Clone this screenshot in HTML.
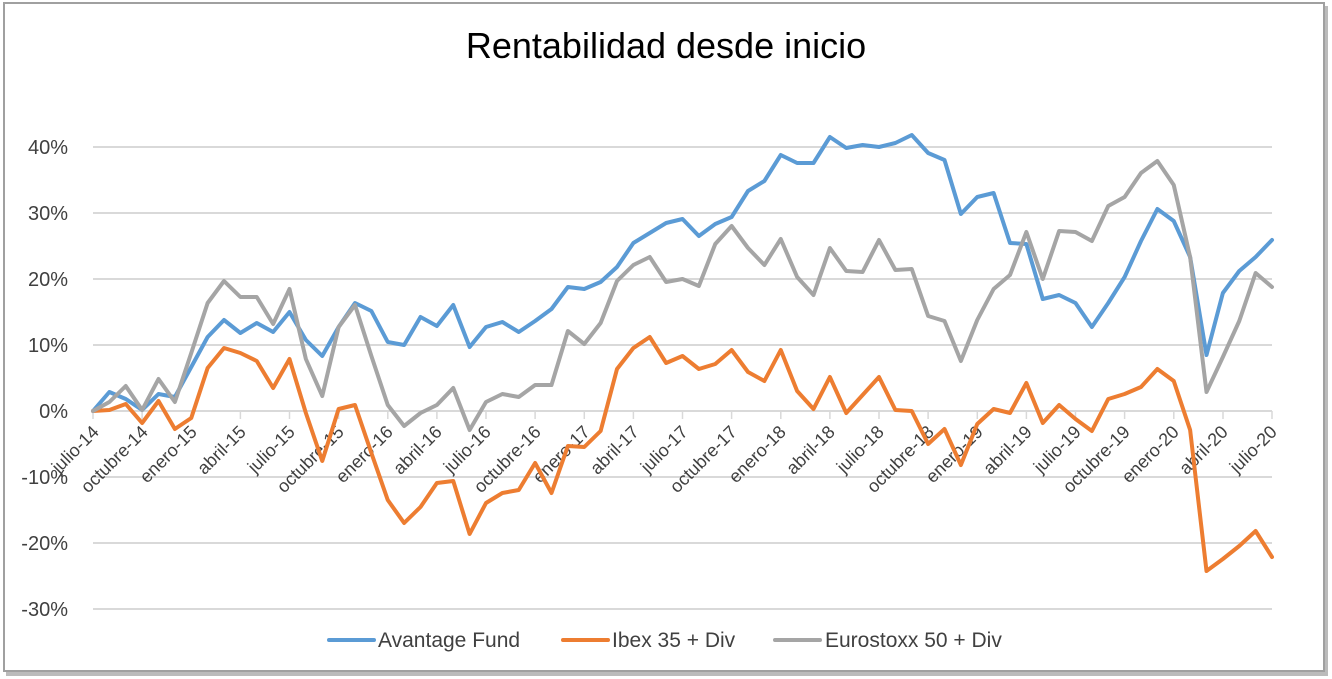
<!DOCTYPE html>
<html><head><meta charset="utf-8"><style>
html,body{margin:0;padding:0;background:#fff;}
body{width:1332px;height:679px;overflow:hidden;position:relative;font-family:"Liberation Sans",sans-serif;}
</style></head><body>
<svg width="1332" height="679" viewBox="0 0 1332 679" xmlns="http://www.w3.org/2000/svg" style="position:absolute;left:0;top:0">
<rect x="0" y="0" width="1332" height="679" fill="#fff"/>
<rect x="6" y="6" width="1322" height="670" fill="#bbb"/>
<rect x="4" y="3" width="1320" height="668" fill="#fff" stroke="#a0a0a0" stroke-width="2"/>
<text x="666" y="58" text-anchor="middle" font-size="36" fill="#000" font-family="Liberation Sans, sans-serif">Rentabilidad desde inicio</text>
<g stroke="#d9d9d9" stroke-width="2">
<line x1="93" y1="147" x2="1272" y2="147"/>
<line x1="93" y1="213" x2="1272" y2="213"/>
<line x1="93" y1="279" x2="1272" y2="279"/>
<line x1="93" y1="345" x2="1272" y2="345"/>
<line x1="93" y1="477" x2="1272" y2="477"/>
<line x1="93" y1="543" x2="1272" y2="543"/>
<line x1="93" y1="609" x2="1272" y2="609"/>
<line x1="93" y1="411" x2="1272" y2="411"/>
</g>
<g font-size="20" fill="#404040" text-anchor="end">
<text x="68" y="154">40%</text>
<text x="68" y="220">30%</text>
<text x="68" y="286">20%</text>
<text x="68" y="352">10%</text>
<text x="68" y="418">0%</text>
<text x="68" y="484">-10%</text>
<text x="68" y="550">-20%</text>
<text x="68" y="616">-30%</text>
</g>
<g stroke="#d9d9d9" stroke-width="1.5">
<line x1="93" y1="411" x2="93" y2="419"/><line x1="142.1" y1="411" x2="142.1" y2="419"/><line x1="191.3" y1="411" x2="191.3" y2="419"/><line x1="240.4" y1="411" x2="240.4" y2="419"/><line x1="289.5" y1="411" x2="289.5" y2="419"/><line x1="338.6" y1="411" x2="338.6" y2="419"/><line x1="387.8" y1="411" x2="387.8" y2="419"/><line x1="436.9" y1="411" x2="436.9" y2="419"/><line x1="486" y1="411" x2="486" y2="419"/><line x1="535.1" y1="411" x2="535.1" y2="419"/><line x1="584.3" y1="411" x2="584.3" y2="419"/><line x1="633.4" y1="411" x2="633.4" y2="419"/><line x1="682.5" y1="411" x2="682.5" y2="419"/><line x1="731.6" y1="411" x2="731.6" y2="419"/><line x1="780.8" y1="411" x2="780.8" y2="419"/><line x1="829.9" y1="411" x2="829.9" y2="419"/><line x1="879" y1="411" x2="879" y2="419"/><line x1="928.1" y1="411" x2="928.1" y2="419"/><line x1="977.3" y1="411" x2="977.3" y2="419"/><line x1="1026.4" y1="411" x2="1026.4" y2="419"/><line x1="1075.5" y1="411" x2="1075.5" y2="419"/><line x1="1124.6" y1="411" x2="1124.6" y2="419"/><line x1="1173.8" y1="411" x2="1173.8" y2="419"/><line x1="1223" y1="411" x2="1223" y2="419"/><line x1="1272" y1="411" x2="1272" y2="419"/>
</g>
<g font-size="18" fill="#404040" text-anchor="end">
<text transform="translate(100,433) rotate(-45)">julio-14</text>
<text transform="translate(149,433) rotate(-45)">octubre-14</text>
<text transform="translate(198,433) rotate(-45)">enero-15</text>
<text transform="translate(247,433) rotate(-45)">abril-15</text>
<text transform="translate(296,433) rotate(-45)">julio-15</text>
<text transform="translate(345,433) rotate(-45)">octubre-15</text>
<text transform="translate(394,433) rotate(-45)">enero-16</text>
<text transform="translate(443,433) rotate(-45)">abril-16</text>
<text transform="translate(492,433) rotate(-45)">julio-16</text>
<text transform="translate(542,433) rotate(-45)">octubre-16</text>
<text transform="translate(591,433) rotate(-45)">enero-17</text>
<text transform="translate(640,433) rotate(-45)">abril-17</text>
<text transform="translate(689,433) rotate(-45)">julio-17</text>
<text transform="translate(738,433) rotate(-45)">octubre-17</text>
<text transform="translate(787,433) rotate(-45)">enero-18</text>
<text transform="translate(836,433) rotate(-45)">abril-18</text>
<text transform="translate(885,433) rotate(-45)">julio-18</text>
<text transform="translate(935,433) rotate(-45)">octubre-18</text>
<text transform="translate(984,433) rotate(-45)">enero-19</text>
<text transform="translate(1033,433) rotate(-45)">abril-19</text>
<text transform="translate(1082,433) rotate(-45)">julio-19</text>
<text transform="translate(1131,433) rotate(-45)">octubre-19</text>
<text transform="translate(1180,433) rotate(-45)">enero-20</text>
<text transform="translate(1229,433) rotate(-45)">abril-20</text>
<text transform="translate(1278,433) rotate(-45)">julio-20</text>
</g>
<g transform="translate(93,0) scale(16.375,1)" fill="none" stroke-linejoin="round" stroke-linecap="round">
<polyline vector-effect="non-scaling-stroke" stroke="#5B9BD5" stroke-width="4" points="0,411 1,392 2,399 3,410 4,394 5,397 6,367 7,337 8,320 9,333 10,323 11,332 12,312 13,340 14,356 15,327 16,303 17,311 18,342 19,345 20,317 21,326 22,305 23,347 24,327 25,322 26,332 27,321 28,309 29,287 30,289 31,282 32,267 33,243 34,233 35,223 36,219 37,236 38,224 39,217 40,191 41,181 42,155 43,163 44,163 45,137 46,148 47,145 48,147 49,143 50,135 51,153 52,160 53,214 54,197 55,193 56,243 57,244 58,299 59,295 60,303 61,327 62,303 63,277 64,241 65,209 66,221 67,257 68,355 69,293 70,271 71,257 72,240"/>
<polyline vector-effect="non-scaling-stroke" stroke="#ED7D31" stroke-width="4" points="0,411 1,410 2,404 3,423 4,401 5,429 6,418 7,368 8,348 9,353 10,361 11,388 12,359 13,413 14,461 15,409 16,405 17,453 18,500 19,523 20,507 21,483 22,481 23,534 24,503 25,493 26,490 27,463 28,493 29,446 30,447 31,431 32,369 33,348 34,337 35,363 36,356 37,369 38,364 39,350 40,372 41,381 42,350 43,391 44,409 45,377 46,413 47,395 48,377 49,410 50,411 51,444 52,429 53,465 54,424 55,409 56,413 57,383 58,423 59,405 60,419 61,431 62,399 63,394 64,387 65,369 66,381 67,430 68,571 69,559 70,546 71,531 72,557"/>
<polyline vector-effect="non-scaling-stroke" stroke="#A5A5A5" stroke-width="4" points="0,411 1,402 2,386 3,410 4,379 5,402 6,353 7,303 8,281 9,297 10,297 11,324 12,289 13,359 14,396 15,327 16,305 17,356 18,405 19,426 20,413 21,405 22,388 23,430 24,402 25,394 26,397 27,385 28,385 29,331 30,344 31,323 32,281 33,265 34,257 35,282 36,279 37,286 38,244 39,226 40,248 41,265 42,239 43,277 44,295 45,248 46,271 47,272 48,240 49,270 50,269 51,316 52,321 53,361 54,320 55,289 56,275 57,232 58,279 59,231 60,232 61,241 62,206 63,197 64,173 65,161 66,185 67,257 68,392 69,357 70,321 71,273 72,287"/>
</g>
<g font-size="21" fill="#404040">
<line x1="329" y1="640" x2="374" y2="640" stroke="#5B9BD5" stroke-width="4" stroke-linecap="round"/>
<text x="378" y="647">Avantage Fund</text>
<line x1="563" y1="640" x2="608" y2="640" stroke="#ED7D31" stroke-width="4" stroke-linecap="round"/>
<text x="612" y="647">Ibex 35 + Div</text>
<line x1="775" y1="640" x2="820" y2="640" stroke="#A5A5A5" stroke-width="4" stroke-linecap="round"/>
<text x="825" y="647">Eurostoxx 50 + Div</text>
</g>
</svg>
</body></html>
